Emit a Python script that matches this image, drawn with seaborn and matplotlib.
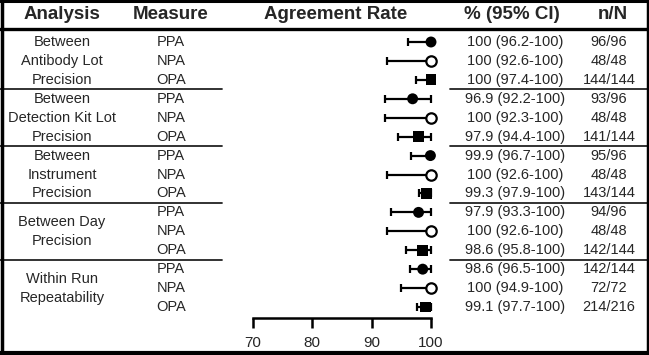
import matplotlib
matplotlib.use("Agg")
import matplotlib.pyplot as plt
from matplotlib.lines import Line2D
from matplotlib.transforms import blended_transform_factory
import seaborn as sns
import pandas as pd

# table contents
analysis = [["Between", "Antibody Lot", "Precision"],
            ["Between", "Detection Kit Lot", "Precision"],
            ["Between", "Instrument", "Precision"],
            ["Between Day", "Precision"],
            ["Within Run", "Repeatability"]]
measures = ["PPA", "NPA", "OPA"]
rate = [100, 100, 100, 96.9, 100, 97.9, 99.9, 100, 99.3, 97.9, 100, 98.6, 98.6, 100, 99.1]
ci_low = [96.2, 92.6, 97.4, 92.2, 92.3, 94.4, 96.7, 92.6, 97.9, 93.3, 92.6, 95.8, 96.5, 94.9, 97.7]
ci_high = [100, 100, 100, 100, 100, 100, 100, 100, 100, 100, 100, 100, 100, 100, 100]
n_agree = [96, 48, 144, 93, 48, 141, 95, 48, 143, 94, 48, 142, 142, 72, 214]
n_total = [96, 48, 144, 96, 48, 144, 96, 48, 144, 96, 48, 144, 144, 72, 216]
ticks = [70, 80, 90, 100]

df = pd.DataFrame({
    "row": list(range(len(rate))),
    "measure": measures * len(analysis),
    "rate": rate,
    "lo": ci_low,
    "hi": ci_high,
})

sns.set_style("white")
plt.rcParams['font.family'] = ['Liberation Sans', 'DejaVu Sans']

W, H = 649, 355
fig = plt.figure(figsize=(W / 100, H / 100), dpi=100)

def fx(px):
    return px / W

def fy(py):
    return 1 - py / H

# forest plot axes: 70..100 spans pixels 253..431, bottom spine at y=318
row0, pitch = 42, 18.93
ax = fig.add_axes([fx(253), fy(318), fx(431) - fx(253), fy(30) - fy(318)])
ax.set_xlim(70, 100)
ax.set_ylim((318 - row0) / pitch, (30 - row0) / pitch)

ax.errorbar(df["rate"], df["row"], xerr=[df["rate"] - df["lo"], df["hi"] - df["rate"]],
            fmt="none", ecolor="black", elinewidth=1.6, capsize=3, capthick=1.6,
            clip_on=False, zorder=2)
filled = df[df["measure"] != "NPA"]
sns.scatterplot(data=filled, x="rate", y="row", style="measure",
                markers={"PPA": "o", "OPA": "s"}, color="black", s=62,
                edgecolor="black", linewidth=0, legend=False, ax=ax, clip_on=False, zorder=3)
sns.scatterplot(data=df[df["measure"] == "NPA"], x="rate", y="row", marker="o",
                facecolor="white", edgecolor="black", linewidth=1.6, s=56,
                legend=False, ax=ax, clip_on=False, zorder=3)

for side in ["top", "left", "right"]:
    ax.spines[side].set_visible(False)
ax.spines["bottom"].set_linewidth(1.8)
ax.spines["bottom"].set_color("black")
ax.set_xticks(ticks)
ax.set_yticks([])
ax.tick_params(axis="x", direction="out", length=7, width=1.8, color="black",
               labelsize=11, pad=6, bottom=True)
ax.set_xlabel("")
ax.set_ylabel("")
ax.patch.set_alpha(0)

# text table aligned with the rows
tr = blended_transform_factory(fig.transFigure, ax.transData)
hdr_y = fy(14.5)
for label, x in [("Analysis", 62), ("Measure", 171), ("Agreement Rate", 336),
                 ("% (95% CI)", 512), ("n/N", 613)]:
    fig.text(fx(x), hdr_y, label, ha="center", va="center", fontsize=13.5, fontweight="bold")

for i in range(len(rate)):
    ax.text(fx(171), i, df["measure"][i], transform=tr, ha="center", va="center", fontsize=10.5)
    ax.text(fx(515), i, f"{rate[i]:g} ({ci_low[i]:g}-{ci_high[i]:g})", transform=tr,
            ha="center", va="center", fontsize=10.5)
    ax.text(fx(609), i, f"{n_agree[i]}/{n_total[i]}", transform=tr,
            ha="center", va="center", fontsize=10.5)

for g, lines in enumerate(analysis):
    centre = g * 3 + 1
    for k, line in enumerate(lines):
        ax.text(fx(62), centre + k - (len(lines) - 1) / 2, line, transform=tr,
                ha="center", va="center", fontsize=10.5)

# group separators
for g in range(1, len(analysis)):
    yy = g * 3 - 0.5
    fig.add_artist(Line2D([0, fx(222)], [yy, yy], color="#222222", lw=1.3, transform=tr))
    fig.add_artist(Line2D([fx(450), 1], [yy, yy], color="#222222", lw=1.3, transform=tr))

# header rule and outer frame
fig.add_artist(Line2D([0, 1], [fy(29), fy(29)], color="black", lw=2.4))
fig.add_artist(Line2D([fx(1.5), fx(1.5)], [0, 1], color="black", lw=2.5))
fig.add_artist(Line2D([fx(647.5), fx(647.5)], [0, 1], color="black", lw=2.5))
fig.add_artist(Line2D([0, 1], [fy(1), fy(1)], color="black", lw=2.2))
fig.add_artist(Line2D([0, 1], [fy(352.5), fy(352.5)], color="black", lw=3.0))

fig.savefig("out.png", dpi=100)
